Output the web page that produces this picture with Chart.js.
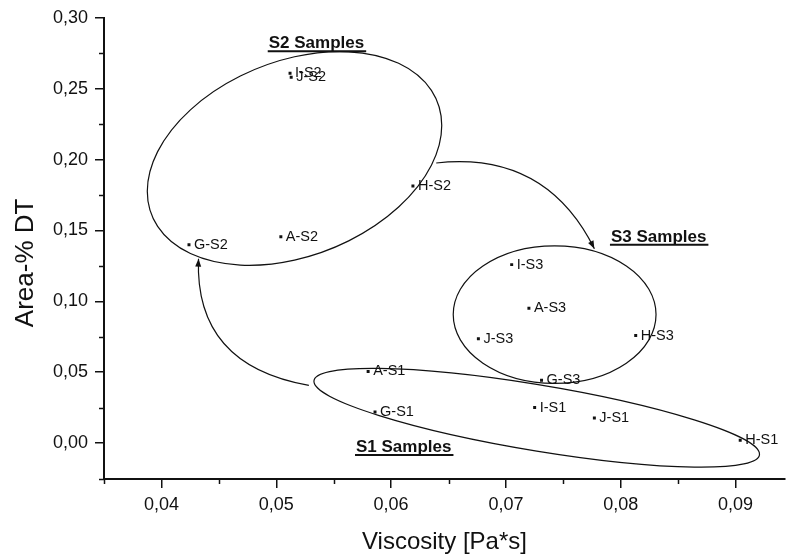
<!DOCTYPE html>
<html>
<head>
<meta charset="utf-8">
<script src="https://cdn.jsdelivr.net/npm/chart.js@4/dist/chart.umd.min.js"></script>
<style>
	html, body { margin: 0; padding: 0; background: #fff; }
	#wrap { width: 789px; height: 558px; }
</style>
</head>
<body>
<div id="wrap"><canvas id="viscChart" width="789" height="558"></canvas></div>
<script>
// Sample points
const sampleLabels = ["I-S2", "J-S2", "H-S2", "A-S2", "G-S2", "I-S3", "A-S3", "J-S3", "H-S3", "G-S3", "A-S1", "G-S1", "I-S1", "J-S1", "H-S1"];
const viscosity = [0.0512, 0.0513, 0.0619, 0.0504, 0.0424, 0.0705, 0.0720, 0.0676, 0.0813, 0.0731, 0.0580, 0.0586, 0.0725, 0.0777, 0.0904];
const areaDT = [0.2609, 0.2581, 0.1814, 0.1456, 0.1399, 0.1259, 0.0952, 0.0736, 0.0759, 0.0443, 0.0506, 0.0220, 0.0251, 0.0178, 0.0021];

// Group ellipses, in data units: center and two conjugate half axes
const groupNames = ["S1 Samples", "S2 Samples", "S3 Samples"];
const groupLabelX = [0.0611, 0.0535, 0.0833];
const groupLabelY = [-0.0028, 0.2820, 0.1456];
const ellipseCenterX = [0.07268, 0.05159, 0.07424];
const ellipseCenterY = [0.0179, 0.2008, 0.0907];
const ellipseAxisU = [[0.0194, -0.02567], [0.01282, 0.0232], [0.00883, 0]];
const ellipseAxisV = [[0, 0.0235], [0, -0.0717], [0, 0.0485]];

// Curved arrows between groups: start, control, end (data units)
const arrowStart = [[0.06393, 0.1976], [0.05284, 0.0408]];
const arrowControl = [[0.07346, 0.2060], [0.04288, 0.0549]];
const arrowEnd = [[0.0777, 0.1371], [0.04323, 0.1301]];

// Axes
const xMin = 0.035, xMax = 0.0943;
const yMin = -0.0253, yMax = 0.30;

const FONT = "'Liberation Sans', Arial, Helvetica, sans-serif";

function commaNum(v) {
	return v.toFixed(2).replace(".", ",");
}

const scatterPoints = viscosity.map((v, i) => ({ x: v, y: areaDT[i] }));

// Draws the minor ticks between the major ones
const minorTicks = {
	id: "minorTicks",
	afterDraw(chart) {
		const ctx = chart.ctx;
		const { x, y } = chart.scales;
		ctx.save();
		ctx.strokeStyle = "#111";
		ctx.lineWidth = 1.5;
		const xs = x.ticks.map((t) => t.value);
		const xStep = xs[1] - xs[0];
		for (let i = -1; i < xs.length; i++) {
			const v = (i < 0 ? xs[0] : xs[i]) + (i < 0 ? -xStep / 2 : xStep / 2);
			if (v < x.min - 1e-9 || v > x.max) continue;
			const px = Math.round(x.getPixelForValue(v)) + 0.5;
			ctx.beginPath();
			ctx.moveTo(px, chart.chartArea.bottom);
			ctx.lineTo(px, chart.chartArea.bottom + 5);
			ctx.stroke();
		}
		const ys = y.ticks.map((t) => t.value);
		const yStep = ys[1] - ys[0];
		for (let i = -1; i < ys.length; i++) {
			const v = (i < 0 ? ys[0] : ys[i]) + (i < 0 ? -yStep / 2 : yStep / 2);
			if (v < y.min || v > y.max) continue;
			const py = Math.round(y.getPixelForValue(v)) + 0.5;
			ctx.beginPath();
			ctx.moveTo(chart.chartArea.left, py);
			ctx.lineTo(chart.chartArea.left - 5, py);
			ctx.stroke();
		}
		ctx.restore();
	},
};

// Ellipses, arrows, point names and group titles
const annotate = {
	id: "annotate",
	afterDatasetsDraw(chart) {
		const ctx = chart.ctx;
		const { x, y } = chart.scales;
		ctx.save();
		ctx.strokeStyle = "#111";
		ctx.fillStyle = "#111";
		ctx.lineWidth = 1.2;

		for (let i = 0; i < groupNames.length; i++) {
			const cx = x.getPixelForValue(ellipseCenterX[i]);
			const cy = y.getPixelForValue(ellipseCenterY[i]);
			const ux = x.getPixelForValue(ellipseCenterX[i] + ellipseAxisU[i][0]) - cx;
			const uy = y.getPixelForValue(ellipseCenterY[i] + ellipseAxisU[i][1]) - cy;
			const vx = x.getPixelForValue(ellipseCenterX[i] + ellipseAxisV[i][0]) - cx;
			const vy = y.getPixelForValue(ellipseCenterY[i] + ellipseAxisV[i][1]) - cy;
			ctx.save();
			ctx.transform(ux, uy, vx, vy, cx, cy);
			ctx.beginPath();
			ctx.arc(0, 0, 1, 0, Math.PI * 2);
			ctx.restore();
			ctx.stroke();
		}

		for (let i = 0; i < arrowStart.length; i++) {
			const p0 = [x.getPixelForValue(arrowStart[i][0]), y.getPixelForValue(arrowStart[i][1])];
			const c = [x.getPixelForValue(arrowControl[i][0]), y.getPixelForValue(arrowControl[i][1])];
			const p2 = [x.getPixelForValue(arrowEnd[i][0]), y.getPixelForValue(arrowEnd[i][1])];
			ctx.beginPath();
			ctx.moveTo(p0[0], p0[1]);
			ctx.quadraticCurveTo(c[0], c[1], p2[0], p2[1]);
			ctx.stroke();
			// arrow head
			const ang = Math.atan2(p2[1] - c[1], p2[0] - c[0]);
			const len = 8, wid = 3;
			ctx.beginPath();
			ctx.moveTo(p2[0], p2[1]);
			ctx.lineTo(p2[0] - len * Math.cos(ang) + wid * Math.sin(ang), p2[1] - len * Math.sin(ang) - wid * Math.cos(ang));
			ctx.lineTo(p2[0] - len * Math.cos(ang) - wid * Math.sin(ang), p2[1] - len * Math.sin(ang) + wid * Math.cos(ang));
			ctx.closePath();
			ctx.fill();
		}

		// point names
		ctx.font = "14.5px " + FONT;
		ctx.textAlign = "left";
		ctx.textBaseline = "middle";
		for (let i = 0; i < sampleLabels.length; i++) {
			const px = x.getPixelForValue(viscosity[i]);
			const py = y.getPixelForValue(areaDT[i]);
			ctx.fillText(sampleLabels[i], px + 5, py);
		}

		// group titles, bold and underlined
		ctx.font = "bold 17px " + FONT;
		ctx.textAlign = "center";
		ctx.textBaseline = "alphabetic";
		ctx.lineWidth = 2;
		for (let i = 0; i < groupNames.length; i++) {
			const px = x.getPixelForValue(groupLabelX[i]);
			const py = y.getPixelForValue(groupLabelY[i]);
			ctx.fillText(groupNames[i], px, py + 5);
			const w = ctx.measureText(groupNames[i]).width;
			ctx.beginPath();
			ctx.moveTo(px - w / 2 - 1, py + 8);
			ctx.lineTo(px + w / 2 + 2, py + 8);
			ctx.stroke();
		}
		ctx.restore();
	},
};

new Chart(document.getElementById("viscChart").getContext("2d"), {
	type: "scatter",
	data: {
		datasets: [
			{
				data: scatterPoints,
				pointStyle: "rect",
				pointRadius: 2.1,
				backgroundColor: "#111",
				borderColor: "#111",
				borderWidth: 0,
			},
		],
	},
	options: {
		responsive: false,
		animation: false,
		layout: { padding: { top: 16, right: 0, left: 0, bottom: 0 } },
		plugins: {
			legend: { display: false },
			tooltip: { enabled: false },
		},
		scales: {
			x: {
				type: "linear",
				min: xMin,
				max: xMax,
				afterFit: (s) => {
					s.height = 79;
				},
				border: { display: true, color: "#111", width: 2 },
				grid: { drawOnChartArea: false, drawTicks: true, tickLength: 9, color: "#111", lineWidth: 1.5 },
				ticks: {
					stepSize: 0.01,
					includeBounds: false,
					color: "#111",
					padding: 6,
					maxRotation: 0,
					font: { family: FONT, size: 18 },
					callback: (v) => commaNum(v),
				},
				title: {
					display: true,
					text: "Viscosity [Pa*s]",
					color: "#111",
					font: { family: FONT, size: 24 },
					padding: { top: 0, bottom: 1 },
				},
			},
			y: {
				type: "linear",
				min: yMin,
				max: yMax,
				afterFit: (s) => {
					s.width = 104;
				},
				border: { display: true, color: "#111", width: 2 },
				grid: { drawOnChartArea: false, drawTicks: true, tickLength: 9, color: "#111", lineWidth: 1.5 },
				ticks: {
					stepSize: 0.05,
					includeBounds: false,
					color: "#111",
					padding: 7,
					font: { family: FONT, size: 18 },
					callback: (v) => commaNum(v),
				},
				title: {
					display: true,
					// trailing spaces push the title a little lower, as in the original
					text: "Area-% DT    ",
					color: "#111",
					font: { family: FONT, size: 26 },
					padding: { top: 10, bottom: 0 },
				},
			},
		},
	},
	plugins: [minorTicks, annotate],
});
</script>
</body>
</html>
